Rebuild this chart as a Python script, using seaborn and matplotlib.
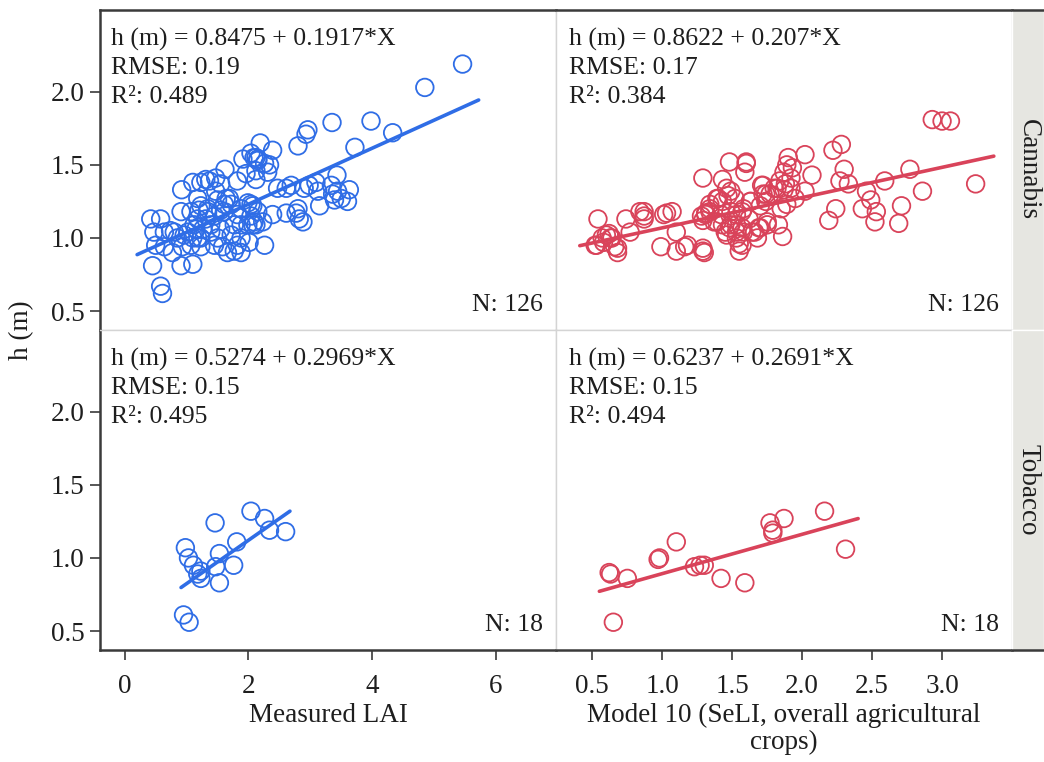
import matplotlib
matplotlib.use("Agg")
import matplotlib.pyplot as plt
import seaborn as sns

# ---------------------------------------------------------------- data
crops = ["Cannabis", "Tobacco"]
x_labels = ["Measured LAI", "Model 10 (SeLI, overall agricultural\ncrops)"]

# Cannabis, measured LAI vs plant height
cannabis_lai_x = [
    5.46, 4.85, 3.98, 3.35, 4.33, 3.72, 2.96, 2.93, 2.80, 2.19,
    2.39, 2.26, 2.34, 1.91, 2.09, 2.15, 1.62, 1.82, 2.12, 1.31,
    1.37, 1.23, 0.92, 1.10, 1.47, 1.64, 2.47, 2.61, 2.90, 3.09,
    3.12, 3.34, 3.43, 3.63, 3.36, 3.50, 3.60, 3.15, 2.80, 2.77,
    2.82, 2.88, 2.61, 2.39, 2.26, 1.99, 2.07, 2.04, 2.07, 1.82,
    1.88, 1.69, 1.61, 1.55, 1.34, 1.23, 1.18, 1.07, 0.91, 0.42,
    0.58, 0.47, 0.64, 0.74, 0.85, 1.02, 1.15, 0.50, 0.64, 0.77,
    0.93, 1.07, 1.18, 1.23, 1.39, 1.50, 1.45, 1.58, 1.66, 1.77,
    1.82, 1.88, 0.45, 0.91, 1.10, 0.58, 0.61,
    1.47, 1.55, 1.96, 2.04, 2.15, 2.12, 1.18, 1.20, 1.34, 1.50,
    1.31, 1.45, 1.61, 1.72, 1.88, 2.04, 2.15, 1.12, 1.26, 1.39,
    1.55, 1.77, 1.99, 2.09, 0.80, 0.96, 1.10, 1.23, 1.72, 1.88,
    2.01, 2.23, 2.12, 2.31, 2.69, 2.98, 3.44, 3.39, 2.12,
]
cannabis_lai_h = [
    2.19, 2.03, 1.80, 1.79, 1.72, 1.62, 1.74, 1.71, 1.63, 1.65,
    1.60, 1.51, 1.50, 1.54, 1.55, 1.54, 1.47, 1.39, 1.40, 1.40,
    1.39, 1.38, 1.33, 1.38, 1.32, 1.27, 1.34, 1.34, 1.34, 1.38,
    1.32, 1.36, 1.43, 1.33, 1.30, 1.27, 1.25, 1.22, 1.20, 1.17,
    1.13, 1.11, 1.17, 1.16, 0.95, 1.24, 1.22, 1.15, 1.09, 1.16,
    1.09, 1.27, 1.23, 1.19, 1.18, 1.22, 1.13, 1.18, 1.18, 1.13,
    1.13, 1.04, 1.04, 1.05, 1.00, 1.04, 1.06, 0.95, 0.94, 0.90,
    0.94, 0.95, 1.00, 0.94, 1.04, 1.00, 0.95, 0.94, 0.90, 0.91,
    0.95, 0.90, 0.81, 0.81, 0.82, 0.67, 0.62,
    1.41, 1.37, 1.44, 1.58, 1.53, 1.46, 1.27, 1.19, 1.20, 1.26,
    1.13, 1.15, 1.18, 1.23, 1.20, 1.23, 1.18, 1.09, 1.06, 1.09,
    1.06, 1.09, 1.09, 1.11, 1.04, 1.02, 1.00, 1.00, 1.02, 1.00,
    0.97, 1.11, 1.55, 1.45, 1.36, 1.36, 1.32, 1.26, 1.09,
]

# Cannabis, Model 10 (SeLI) vs plant height
cannabis_seli_x = [
    2.93, 3.00, 3.06, 3.24, 2.86, 2.77, 2.59, 2.71, 2.69, 2.46,
    2.49, 2.53, 2.52, 2.43, 2.30, 2.27, 2.33, 2.22, 2.28, 2.24,
    2.19, 2.02, 2.07, 2.02, 1.90, 1.89, 1.87, 1.92, 1.84, 1.88,
    1.82, 1.87, 1.92, 1.89, 1.86, 1.72, 1.72, 1.74, 1.70, 1.75,
    1.70, 1.66, 1.63, 1.60, 1.59, 1.48, 1.43, 1.49, 1.52, 1.57,
    1.53, 1.57, 1.53, 1.55, 1.55, 1.49, 1.45, 1.42, 1.37, 1.34,
    1.39, 1.43, 1.49, 1.29, 1.28, 1.31, 1.34, 1.29, 1.10, 1.16,
    1.10, 0.99, 1.29, 1.30, 1.01, 1.07, 0.87, 0.87, 0.74, 0.77,
    0.54, 0.60, 0.63, 0.58, 0.53, 0.66, 0.68,
    0.84, 0.87, 0.62, 0.57, 0.64, 0.52, 0.68, 1.03, 1.18, 1.29,
    1.31, 1.34, 1.60, 1.46, 1.40, 1.47, 1.58, 1.63, 1.71, 1.74,
    1.39, 1.43, 1.48, 1.53, 1.58, 1.64, 1.69, 1.75, 1.46, 1.53,
    1.57, 1.68, 1.80, 1.77, 1.85, 1.83, 1.93, 1.95, 1.62,
]
cannabis_seli_h = [
    1.81, 1.80, 1.80, 1.37, 1.32, 1.47, 1.39, 1.22, 1.10, 1.32,
    1.26, 1.18, 1.11, 1.20, 1.47, 1.39, 1.37, 1.60, 1.64, 1.20,
    1.12, 1.57, 1.43, 1.32, 1.55, 1.50, 1.45, 1.41, 1.39, 1.37,
    1.34, 1.33, 1.34, 1.23, 1.01, 1.36, 1.30, 1.25, 1.22, 1.09,
    1.07, 1.04, 1.25, 1.51, 1.45, 1.52, 1.40, 1.32, 1.27, 1.18,
    1.16, 1.07, 1.04, 0.96, 0.91, 1.09, 1.04, 1.16, 1.11, 1.23,
    1.27, 1.25, 1.18, 1.41, 1.15, 1.16, 1.18, 1.12, 1.04, 0.94,
    0.91, 0.94, 0.91, 0.90, 1.16, 1.18, 1.18, 1.13, 1.13, 1.04,
    1.13, 1.02, 1.00, 0.97, 0.95, 0.94, 0.90,
    1.18, 1.15, 1.03, 1.00, 1.00, 0.95, 0.93, 1.17, 0.95, 0.93,
    1.17, 1.20, 1.52, 1.34, 1.27, 1.29, 1.20, 1.25, 1.36, 1.30,
    1.11, 1.09, 1.07, 1.09, 1.04, 1.04, 1.07, 1.11, 1.02, 1.00,
    0.95, 1.00, 1.34, 1.30, 1.20, 1.09, 1.48, 1.27, 1.13,
]

# Tobacco, measured LAI vs plant height
tobacco_lai_x = [2.04, 2.26, 2.34, 2.60, 1.46, 1.81, 1.53, 1.76, 1.53,
                 1.47, 0.98, 1.03, 1.11, 1.23, 1.23, 1.18, 0.95, 1.04]
tobacco_lai_h = [1.32, 1.27, 1.19, 1.18, 1.24, 1.11, 1.03, 0.95, 0.83,
                 0.94, 1.07, 1.00, 0.95, 0.91, 0.86, 0.89, 0.61, 0.56]

# Tobacco, Model 10 (SeLI) vs plant height
tobacco_seli_x = [0.62, 0.75, 0.65, 0.97, 1.10, 1.23, 1.30, 1.42, 1.59,
                  1.77, 1.87, 1.79, 2.16, 2.31, 1.79, 1.27, 0.63, 0.98]
tobacco_seli_h = [0.90, 0.86, 0.56, 0.99, 1.11, 0.94, 0.95, 0.86, 0.83,
                  1.24, 1.27, 1.17, 1.32, 1.06, 1.19, 0.95, 0.89, 1.00]

# Fitted models: rows = crops, columns = predictors
intercepts = [[0.8475, 0.8622], [0.5274, 0.6237]]
slopes = [[0.1917, 0.207], [0.2969, 0.2691]]
rmse = [["0.19", "0.17"], ["0.15", "0.15"]]
r_squared = [["0.489", "0.384"], ["0.495", "0.494"]]
n_obs = [[126, 126], [18, 18]]
fit_x_start = [[0.20, 0.41], [0.91, 0.55]]
fit_x_end = [[5.72, 3.37], [2.67, 2.40]]

panel_x = [[cannabis_lai_x, cannabis_seli_x], [tobacco_lai_x, tobacco_seli_x]]
panel_h = [[cannabis_lai_h, cannabis_seli_h], [tobacco_lai_h, tobacco_seli_h]]

# ---------------------------------------------------------------- style
sns.set_theme(style="white")
plt.rcParams["font.family"] = ["Liberation Serif", "DejaVu Serif"]

BLUE = "#2f6de6"
RED = "#d9435a"
col_colors = [BLUE, RED]
DARK = "#3a3a3a"
LIGHT = "#d4d4d4"
TXT = "#1e1e1e"
FS_TICK = 19.5
FS_TEXT = 18.5

W, H = 1044, 762
fig = plt.figure(figsize=(W / 100, H / 100), dpi=100)

col_edges = [100, 556, 1012]
row_edges = [10, 330, 650]
xlims = [(-0.40, 6.97), (0.24, 3.50)]
xticks = [[0, 2, 4, 6], [0.5, 1.0, 1.5, 2.0, 2.5, 3.0]]
xticklabels = [["0", "2", "4", "6"], ["0.5", "1.0", "1.5", "2.0", "2.5", "3.0"]]
yticks = [0.5, 1.0, 1.5, 2.0]


def fig_rect(x0, y0, x1, y1):
    return [x0 / W, 1 - y1 / H, (x1 - x0) / W, (y1 - y0) / H]


for r in range(2):
    for c in range(2):
        ax = fig.add_axes(fig_rect(col_edges[c], row_edges[r],
                                   col_edges[c + 1], row_edges[r + 1]))
        color = col_colors[c]
        sns.scatterplot(x=panel_x[r][c], y=panel_h[r][c], ax=ax,
                        marker="o", s=160, facecolor="none",
                        edgecolor=color, linewidth=1.3, zorder=3)
        xs = [fit_x_start[r][c], fit_x_end[r][c]]
        ys = [intercepts[r][c] + slopes[r][c] * v for v in xs]
        sns.lineplot(x=xs, y=ys, ax=ax, color=color, linewidth=2.6, zorder=4)

        ax.set_xlim(*xlims[c])
        ax.set_ylim(0.37, 2.56)
        ax.set_facecolor("white")

        for side in ["left", "right", "top", "bottom"]:
            ax.spines[side].set_color(LIGHT)
            ax.spines[side].set_linewidth(1.0)
        if c == 0:
            ax.spines["left"].set_color(DARK)
            ax.spines["left"].set_linewidth(1.8)
        if r == 0:
            ax.spines["top"].set_color(DARK)
            ax.spines["top"].set_linewidth(1.8)
        if r == 1:
            ax.spines["bottom"].set_color(DARK)
            ax.spines["bottom"].set_linewidth(1.8)

        ax.set_yticks(yticks)
        ax.set_xticks(xticks[c])
        ax.tick_params(axis="both", which="both", direction="out",
                       length=7, width=1.2, color=DARK, pad=4,
                       labelsize=FS_TICK, labelcolor=TXT)
        if c == 0:
            ax.set_yticklabels([f"{v:.1f}" for v in yticks])
            ax.tick_params(axis="y", left=True)
        else:
            ax.tick_params(axis="y", left=False, labelleft=False)
        if r == 1:
            ax.set_xticklabels(xticklabels[c])
            ax.tick_params(axis="x", bottom=True, pad=10)
            ax.set_xlabel(x_labels[c], fontsize=FS_TICK, color=TXT,
                          labelpad=3, linespacing=1.12)
        else:
            ax.tick_params(axis="x", bottom=False, labelbottom=False)
        ax.set_ylabel("")

        eq = (f"h (m) = {intercepts[r][c]} + {slopes[r][c]}*X\n"
              f"RMSE: {rmse[r][c]}\nR\u00b2: {r_squared[r][c]}")
        ax.text(0.024 if c == 0 else 0.028, 0.945, eq, transform=ax.transAxes,
                ha="left", va="top", fontsize=FS_TEXT, color=TXT,
                linespacing=1.38)
        ax.text(0.972, 0.06, f"N: {n_obs[r][c]}", transform=ax.transAxes,
                ha="right", va="baseline", fontsize=FS_TEXT, color=TXT)

    # facet strip on the right
    sax = fig.add_axes(fig_rect(col_edges[2], row_edges[r], W, row_edges[r + 1]))
    sax.set_facecolor("#e6e6e1")
    sax.set_xticks([])
    sax.set_yticks([])
    for side in ["left", "right", "top", "bottom"]:
        sax.spines[side].set_color("white")
        sax.spines[side].set_linewidth(1.0)
    if r == 0:
        sax.spines["top"].set_color(DARK)
        sax.spines["top"].set_linewidth(1.8)
    else:
        sax.spines["bottom"].set_color(DARK)
        sax.spines["bottom"].set_linewidth(1.8)
    sax.text(0.5, 0.5, crops[r], rotation=270, ha="center", va="center",
             fontsize=FS_TICK, color=TXT, transform=sax.transAxes)

fig.text(22 / W, 1 - 330 / H, "h (m)", rotation=90, ha="center", va="center",
         fontsize=FS_TICK, color=TXT)

fig.savefig("out.png", dpi=100, facecolor="white")
